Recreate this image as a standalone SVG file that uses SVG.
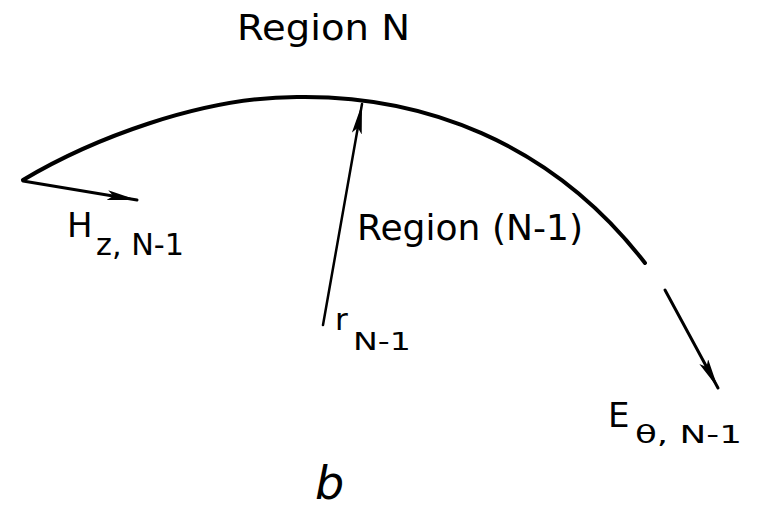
<svg xmlns="http://www.w3.org/2000/svg" width="760" height="512" viewBox="0 0 760 512">
<style>
.t{font-family:"DejaVu Sans","Liberation Sans",sans-serif;fill:#000}
.ln{fill:none;stroke:#000;stroke-linecap:round}
</style>
<defs>
<marker id="ah" markerUnits="userSpaceOnUse" markerWidth="34" markerHeight="12" refX="30" refY="5" orient="auto">
<path d="M0,0 L30,5 L0,10 L6,5 Z" fill="#000"/>
</marker>
</defs>
<rect width="760" height="512" fill="#fff"/>
<g id="boundary">
<path class="ln" d="M23,180 C90,140 200,97 297,97 C420,95 550,140 645,263" stroke-width="4"/>
</g>
<g id="connectors">
<line class="ln" x1="23" y1="181" x2="137" y2="200" stroke-width="3" marker-end="url(#ah)"/>
<line class="ln" x1="323" y1="325" x2="362" y2="104" stroke-width="2.5" marker-end="url(#ah)"/>
<line class="ln" x1="665" y1="290" x2="718" y2="388" stroke-width="3" marker-end="url(#ah)"/>
</g>
<g id="label-region-n">
<text class="t" x="237" y="40" font-size="36" textLength="173" lengthAdjust="spacingAndGlyphs">Region N</text>
</g>
<g id="label-region-n1">
<text class="t" x="357" y="240" font-size="36" textLength="226" lengthAdjust="spacingAndGlyphs">Region (N-1)</text>
</g>
<g id="label-hz">
<text class="t" x="67" y="237" font-size="34">H</text>
<text class="t" x="96" y="255" font-size="30" textLength="88" lengthAdjust="spacingAndGlyphs">z, N-1</text>
</g>
<g id="label-r">
<text class="t" x="335" y="330" font-size="31">r</text>
<text class="t" x="353" y="350" font-size="25" textLength="58" lengthAdjust="spacingAndGlyphs">N-1</text>
</g>
<g id="label-e">
<text class="t" x="608" y="427" font-size="34">E</text>
<text class="t" x="635" y="443" font-size="24" textLength="107" lengthAdjust="spacingAndGlyphs">θ, N-1</text>
</g>
<g id="label-b">
<text class="t" x="315" y="499" font-size="46" font-style="italic">b</text>
</g>
</svg>
